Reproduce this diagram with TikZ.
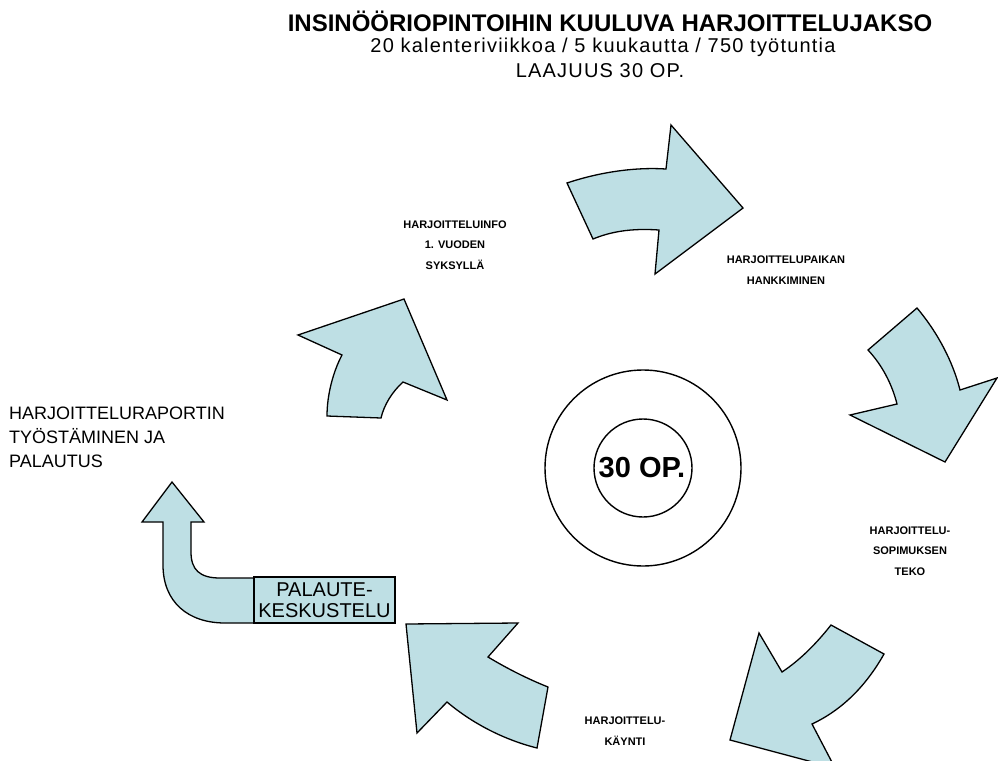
\documentclass[tikz,border=0pt]{standalone}
\usepackage{fontspec}
\setmainfont{Liberation Sans}
\definecolor{arrowfill}{RGB}{190,223,228}
\begin{document}
\begin{tikzpicture}[x=1pt,y=-1pt,
  flow/.style={fill=arrowfill,draw=black,line width=1.3pt,line join=miter},
  ring/.style={draw=black,line width=1.4pt},
  steplabel/.style={font=\fontsize{11}{20.5}\selectfont\bfseries,align=center,inner sep=0pt},
  sidelabel/.style={font=\fontsize{18}{24}\selectfont,align=left,inner sep=0pt},
  headline/.style={inner sep=0pt,font=\fontsize{20}{22}\selectfont\addfontfeatures{LetterSpace=6}}]
\useasboundingbox (0,0) rectangle (998,760);
\fill[white] (0,0) rectangle (998,760);
\clip (0,0) rectangle (998,760);

% heading
\node[inner sep=0pt,font=\fontsize{24}{26}\selectfont\bfseries] (title) at (610,21)
  {INSINÖÖRIOPINTOIHIN KUULUVA HARJOITTELUJAKSO};
\node[headline] (subtitle) at (603,47)
  {20 kalenteriviikkoa / 5 kuukautta / 750 työtuntia};
\node[headline] (scope) at (600,71)
  {LAAJUUS 30 OP.};

% centre rings
\draw[ring] (643,468) circle[radius=98];
\draw[ring] (643,468) circle[radius=49];
\node[inner sep=0pt,font=\fontsize{29}{30}\selectfont\bfseries] (credits) at (642,468) {30 OP.};

% curved arrows of the cycle
\filldraw[flow] (567,183) .. controls (600,172) and (635,167) .. (666,169)
  -- (671,125) -- (743,208) -- (655,274) -- (659,230)
  .. controls (630,228) and (610,232) .. (593,239) -- cycle;

\filldraw[flow] (917,308) .. controls (938,333) and (953,362) .. (960,390)
  -- (997,378) -- (945,462) -- (850,415) -- (897,404)
  .. controls (892,384) and (882,365) .. (868,350) -- cycle;

\filldraw[flow] (831,625) -- (884,654) .. controls (866,686) and (842,710) .. (812,724)
  -- (835,768) -- (730,740) -- (759,633) -- (782,672)
  .. controls (800,660) and (816,644) .. (831,625) -- cycle;

\filldraw[flow] (406,624) -- (518,623) -- (488,657)
  .. controls (508,669) and (528,679) .. (548,687)
  -- (537,748) .. controls (505,740) and (473,724) .. (447,702)
  -- (417,733) -- cycle;

\filldraw[flow] (404,299) -- (447,400) -- (403,382)
  .. controls (392,392) and (384,405) .. (381,418)
  -- (327,416) .. controls (327,395) and (333,372) .. (342,355)
  -- (298,335) -- cycle;

% bent arrow leaving the feedback box
\filldraw[flow] (172,482) -- (204,522) -- (191,522) -- (191,552)
  .. controls (191,570) and (200,578) .. (220,578) -- (256,578)
  -- (256,623) -- (225,623)
  .. controls (188,623) and (163,602) .. (163,565)
  -- (163,522) -- (142,522) -- cycle;
\node[draw=black,line width=1.3pt,fill=arrowfill,minimum width=141pt,minimum height=46pt,
  inner sep=0pt,align=center,font=\fontsize{20}{21}\selectfont] (feedback) at (324.5,600)
  {PALAUTE-\\KESKUSTELU};

% step labels
\node[steplabel] (info) at (455,245) {HARJOITTELUINFO\\1. VUODEN\\SYKSYLLÄ};
\node[steplabel] (place) at (786,270) {HARJOITTELUPAIKAN\\HANKKIMINEN};
\node[steplabel] (contract) at (910,551) {HARJOITTELU-\\SOPIMUKSEN\\TEKO};
\node[steplabel] (visit) at (625,731) {HARJOITTELU-\\KÄYNTI};
\node[sidelabel,anchor=west] (report) at (9,437) {HARJOITTELURAPORTIN\\TYÖSTÄMINEN JA\\PALAUTUS};
\end{tikzpicture}
\end{document}
